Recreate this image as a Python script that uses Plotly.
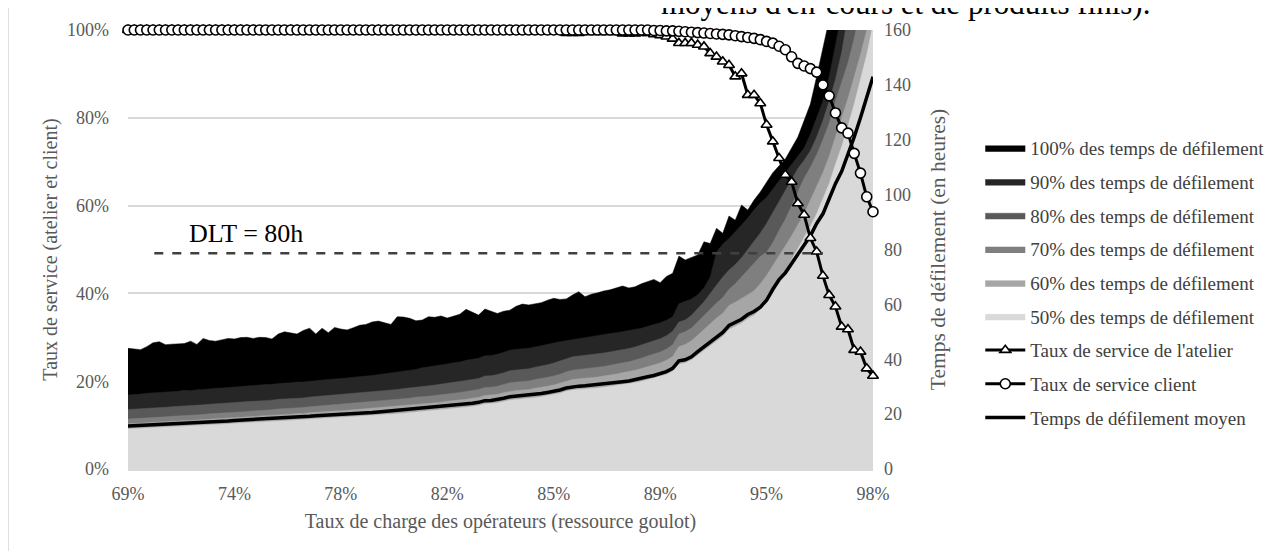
import plotly.graph_objects as go

# ---------------- data ----------------
tick_labels = ["69%", "74%", "78%", "82%", "85%", "89%", "95%", "98%"]
label_step = 17  # one tick label every 17 simulated load levels

mean_lt = [15.7,15.8,15.9,16.1,16.2,16.3,16.3,16.5,16.6,16.8,
           16.7,17.0,17.0,17.2,17.3,17.4,17.5,17.7,17.8,17.9,
           18.0,18.2,18.3,18.4,18.6,18.7,18.8,19.0,19.0,19.2,
           19.4,19.5,19.6,19.8,19.9,20.0,20.2,20.3,20.5,20.6,
           20.8,21.0,21.1,21.3,21.5,21.7,22.0,22.1,22.3,22.5,
           22.7,23.0,23.2,23.4,23.7,24.0,24.3,24.9,25.0,25.3,
           25.8,26.3,26.5,26.7,26.8,27.2,27.5,27.9,28.3,28.8,
           29.5,30.0,30.2,30.3,30.5,30.7,30.9,31.2,31.4,31.8,
           32.1,32.5,33.0,33.6,34.1,34.7,35.5,36.7,39.4,39.8,
           40.9,42.8,44.5,46.3,48.2,49.8,52.3,53.3,54.6,56.3,
           57.4,59.0,61.5,65.5,69.0,71.5,75.0,78.5,82.0,85.0,
           89.5,93.0,98.5,104.0,108.5,114.5,121.0,128.0,136.0,143.0]

p50 = [14.6,14.7,14.8,15.0,15.1,15.2,15.2,15.4,15.5,15.7,
       15.6,15.9,15.9,16.1,16.2,16.3,16.4,16.6,16.7,16.8,
       16.9,17.1,17.2,17.3,17.5,17.6,17.7,17.9,17.9,18.1,
       18.3,18.4,18.5,18.7,18.8,18.9,19.1,19.2,19.4,19.5,
       19.7,19.8,19.9,20.1,20.3,20.5,20.8,20.9,21.1,21.3,
       21.5,21.8,22.0,22.2,22.5,22.8,23.1,23.7,23.8,24.1,
       24.6,25.1,25.3,25.5,25.6,26.0,26.3,26.7,27.1,27.6,
       28.3,28.8,29.0,29.1,29.3,29.5,29.8,30.1,30.3,30.7,
       31.0,31.4,31.9,32.5,33.0,33.6,34.4,35.6,38.2,38.6,
       39.7,41.5,43.2,44.9,46.8,48.3,50.8,51.8,53.1,54.8,
       56.0,58.0,60.5,64.0,68.0,72.0,76.0,80.0,84.5,88.5,
       93.0,98.5,104.0,111.0,117.5,125.0,133.0,142.0,151.0,162.0]

p60 = [16.5,16.6,16.7,16.9,17.0,17.1,17.2,17.4,17.5,17.7,
       17.6,17.9,17.9,18.1,18.3,18.4,18.5,18.7,18.8,19.0,
       19.1,19.3,19.4,19.5,19.8,19.9,20.0,20.2,20.2,20.5,
       20.7,20.8,20.9,21.1,21.2,21.4,21.6,21.7,21.9,22.0,
       22.3,22.5,22.6,22.8,23.0,23.2,23.5,23.7,23.9,24.1,
       24.3,24.7,24.9,25.1,25.4,25.8,26.1,26.8,26.9,27.2,
       27.8,28.3,28.6,28.8,28.9,29.4,29.7,30.2,30.6,31.2,
       32.0,32.6,32.9,33.0,33.3,33.5,33.8,34.3,34.6,35.1,
       35.5,36.0,36.6,37.3,37.9,38.6,39.6,41.0,44.6,45.4,
       46.7,48.8,50.7,52.8,55.0,56.8,59.6,60.8,62.0,63.5,
       65.0,67.5,70.5,74.0,77.5,81.0,85.0,89.0,93.0,98.0,
       103.0,108.0,114.0,121.0,128.0,135.0,143.0,151.0,160.0,169.0]

p70 = [18.2,18.3,18.4,18.7,18.8,18.9,19.0,19.2,19.3,19.6,
       19.5,19.8,19.9,20.1,20.2,20.3,20.5,20.7,20.8,21.0,
       21.1,21.4,21.5,21.6,21.9,22.0,22.2,22.4,22.4,22.7,
       22.9,23.0,23.2,23.4,23.6,23.7,24.0,24.1,24.3,24.5,
       24.7,25.0,25.1,25.3,25.6,25.8,26.2,26.3,26.5,26.8,
       27.0,27.4,27.6,27.9,28.2,28.6,29.0,29.7,29.8,30.2,
       30.8,31.4,31.7,31.9,32.1,32.6,32.9,33.4,33.9,34.5,
       35.4,36.0,36.3,36.5,36.8,37.1,37.4,37.9,38.2,38.7,
       39.1,39.7,40.4,41.2,41.8,42.6,43.7,45.3,49.2,50.0,
       51.4,53.7,55.8,58.1,60.5,62.5,65.5,67.5,70.0,72.5,
       75.0,77.5,79.0,82.5,87.0,91.0,96.0,101.0,106.0,110.0,
       114.5,120.0,126.0,134.0,141.0,148.0,157.0,167.0,178.0,190.0]

p80 = [21.7,21.8,21.9,22.2,22.3,22.4,22.5,22.7,22.8,23.1,
       23.0,23.3,23.4,23.6,23.7,23.8,24.0,24.2,24.4,24.5,
       24.6,24.9,25.0,25.1,25.4,25.5,25.6,25.9,25.9,26.2,
       26.4,26.5,26.7,27.0,27.1,27.2,27.5,27.6,27.9,28.0,
       28.3,28.6,28.7,29.0,29.3,29.5,29.9,30.1,30.3,30.6,
       30.9,31.3,31.6,31.8,32.2,32.6,33.0,33.9,34.0,34.4,
       35.1,35.8,36.1,36.4,36.5,37.1,37.5,38.0,38.6,39.3,
       40.2,40.9,41.2,41.4,41.7,42.0,42.3,42.7,43.0,43.5,
       43.9,44.5,45.2,46.0,46.7,47.5,48.6,50.2,53.6,54.3,
       56.0,58.5,61.0,64.0,67.0,70.0,72.5,74.5,77.0,80.0,
       83.0,86.0,89.5,93.5,97.5,101.5,105.5,109.5,112.5,116.0,
       121.0,127.0,134.0,142.0,152.0,164.0,176.0,190.0,205.0,220.0]

p90 = [27.0,27.1,27.3,27.6,27.8,27.9,28.0,28.2,28.3,28.7,
       28.5,28.9,29.0,29.3,29.4,29.5,29.7,30.0,30.1,30.3,
       30.4,30.7,30.8,30.9,31.2,31.3,31.4,31.7,31.7,32.0,
       32.3,32.4,32.6,32.9,33.0,33.2,33.5,33.6,33.9,34.1,
       34.4,34.7,34.9,35.2,35.5,35.8,36.3,36.9,37.2,37.5,
       37.8,38.3,38.7,39.0,39.6,40.0,40.4,41.3,41.4,41.8,
       42.5,43.3,43.6,43.8,44.0,44.5,44.9,45.4,45.9,46.4,
       46.8,47.1,47.5,47.8,48.2,48.6,49.0,49.4,49.7,50.1,
       50.5,50.9,51.3,52.0,52.6,53.3,54.2,55.5,60.2,61.0,
       62.0,63.5,66.0,70.0,79.0,82.0,84.0,86.5,89.0,91.5,
       94.5,97.0,99.0,102.0,105.0,108.0,111.0,114.0,117.0,122.0,
       128.0,134.0,143.0,154.0,166.0,180.0,195.0,210.0,225.0,240.0]

p100 = [44.0,43.8,43.5,44.6,46.0,46.4,45.3,45.5,45.6,45.7,
        46.6,45.4,47.6,46.8,46.6,47.0,47.6,47.4,47.9,48.0,
        47.6,48.0,47.9,47.4,49.2,50.0,49.6,49.2,50.5,51.3,
        49.2,51.3,49.7,51.6,51.0,50.7,51.5,52.4,52.7,53.6,
        53.9,53.2,52.7,55.5,55.4,54.9,54.0,54.3,55.5,55.3,
        55.8,55.0,55.6,56.4,58.2,57.0,56.1,58.3,57.6,56.7,
        57.5,57.9,59.3,60.1,59.8,60.3,60.6,61.5,62.2,61.8,
        62.0,63.4,64.6,62.8,63.7,64.2,64.9,65.3,66.1,66.7,
        66.0,66.4,67.5,68.3,69.1,67.9,70.2,71.3,77.6,76.2,
        77.0,78.0,82.8,82.2,87.7,85.9,92.2,90.7,96.2,94.4,
        98.0,101.0,104.5,108.0,110.5,113.0,117.0,121.0,127.0,133.0,
        143.0,153.0,162.0,172.0,183.0,195.0,210.0,225.0,240.0,255.0]

service_atelier = [100.0,100.0,100.0,100.0,100.0,100.0,100.0,100.0,100.0,100.0,
                   100.0,100.0,100.0,100.0,100.0,100.0,100.0,100.0,100.0,100.0,
                   100.0,99.7,99.7,99.7,99.7,99.7,100.0,100.0,99.7,99.7,
                   99.7,99.7,99.7,99.7,99.7,99.7,99.7,99.7,99.7,99.7,
                   100.0,99.6,99.6,99.6,99.6,99.6,99.6,99.6,99.6,99.6,
                   99.6,99.6,99.8,99.8,99.8,99.8,99.8,99.8,99.8,99.8,
                   99.8,99.6,99.6,99.6,99.6,99.6,99.6,99.6,99.6,99.6,
                   99.3,99.3,99.3,99.5,99.5,99.5,99.5,99.5,99.5,99.2,
                   99.2,99.2,99.3,99.3,99.0,98.8,98.5,98.0,97.0,97.0,
                   97.0,96.6,96.2,94.7,93.9,92.8,92.0,89.4,90.1,85.2,
                   85.2,83.3,78.4,74.6,70.8,67.0,65.4,60.5,57.9,52.6,
                   49.5,44.0,39.6,37.0,32.4,31.8,27.1,26.7,22.9,21.2]

service_client = [100.0,100.0,100.0,100.0,100.0,100.0,100.0,100.0,100.0,100.0,
                  100.0,100.0,100.0,100.0,100.0,100.0,100.0,100.0,100.0,100.0,
                  100.0,100.0,100.0,100.0,100.0,100.0,100.0,100.0,100.0,100.0,
                  100.0,100.0,100.0,100.0,100.0,100.0,100.0,100.0,100.0,100.0,
                  100.0,100.0,100.0,100.0,100.0,100.0,100.0,100.0,100.0,100.0,
                  100.0,100.0,100.0,100.0,100.0,100.0,100.0,100.0,100.0,100.0,
                  100.0,100.0,100.0,100.0,100.0,100.0,100.0,100.0,100.0,100.0,
                  100.0,100.0,100.0,100.0,100.0,100.0,100.0,100.0,100.0,100.0,
                  100.0,100.0,100.0,100.0,99.9,99.9,99.8,99.8,99.7,99.6,
                  99.5,99.4,99.3,99.2,99.1,99.0,98.9,98.7,98.5,98.3,
                  98.1,97.8,97.4,97.0,96.3,95.5,93.9,92.4,91.8,91.2,
                  90.4,87.5,85.0,81.1,77.7,76.5,71.9,67.4,62.0,58.6]

dlt_hours = 78.6
dlt_label = "DLT = 80h"

# ---------------- figure ----------------
x = list(range(len(mean_lt)))
FONT = "Liberation Serif"
GREY = "#595959"

fig = go.Figure()

areas = [
    ("100% des temps de défilement", p100, "#000000"),
    ("90% des temps de défilement", p90, "#262626"),
    ("80% des temps de défilement", p80, "#595959"),
    ("70% des temps de défilement", p70, "#7f7f7f"),
    ("60% des temps de défilement", p60, "#a6a6a6"),
    ("50% des temps de défilement", p50, "#d9d9d9"),
]
for rank, (name, vals, col) in enumerate(areas, start=1):
    fig.add_trace(go.Scatter(
        x=x, y=vals, name=name, mode="lines", fill="tozeroy",
        fillcolor=col, line=dict(color=col, width=0.5),
        yaxis="y", legendrank=rank, legendgroup=name,
        hoverinfo="skip"))

fig.add_trace(go.Scatter(
    x=x, y=mean_lt, name="Temps de défilement moyen", mode="lines",
    line=dict(color="black", width=3.5), yaxis="y", legendrank=9,
    legendgroup="moy"))

fig.add_trace(go.Scatter(
    x=x, y=service_atelier, name="Taux de service de l'atelier",
    mode="lines+markers", line=dict(color="black", width=3),
    marker=dict(symbol="triangle-up", size=9.5, color="white",
                line=dict(color="black", width=1.6)),
    yaxis="y2", legendrank=7, legendgroup="at", cliponaxis=False))

fig.add_trace(go.Scatter(
    x=x, y=service_client, name="Taux de service client",
    mode="lines+markers", line=dict(color="black", width=3),
    marker=dict(symbol="circle", size=10, color="white",
                line=dict(color="black", width=1.6)),
    yaxis="y2", legendrank=8, legendgroup="cl", cliponaxis=False))

fig.add_shape(type="line", xref="x", yref="y", x0=4.2, x1=111,
              y0=dlt_hours, y1=dlt_hours,
              line=dict(color="#404040", width=2.5, dash="dash"))
fig.add_annotation(xref="x", yref="y", x=9.5, y=86, text=dlt_label,
                   showarrow=False, xanchor="left", yanchor="middle",
                   font=dict(family=FONT, size=26, color="black"))

fig.add_annotation(xref="paper", yref="paper", x=1.043, y=1.061,
                   text="moyens d'en-cours et de produits finis).",
                   showarrow=False, xanchor="center", yanchor="middle",
                   font=dict(family=FONT, size=31, color="black"))

for xp in (-0.161, 1.554):
    fig.add_shape(type="line", xref="paper", yref="paper", x0=xp, x1=xp,
                  y0=1.05, y1=-0.2, line=dict(color="#d9d9d9", width=1.5))

fig.update_layout(
    width=1280, height=543,
    margin=dict(l=120, r=415, t=22, b=82),
    paper_bgcolor="white", plot_bgcolor="white",
    font=dict(family=FONT, size=18, color=GREY),
    showlegend=True,
    legend=dict(x=1.144, y=0.7745, xanchor="left", yanchor="top",
                font=dict(family=FONT, size=19, color="#404040"),
                tracegroupgap=6, itemwidth=40, bgcolor="rgba(0,0,0,0)"),
    xaxis=dict(range=[0, len(x) - 1],
               tickvals=[i * label_step for i in range(len(tick_labels))],
               ticktext=tick_labels, showgrid=False, zeroline=False,
               showline=True, linecolor="#d9d9d9", linewidth=1.5,
               ticks="", ticklabelstandoff=8,
               tickfont=dict(size=18, color=GREY),
               title=dict(text="Taux de charge des opérateurs (ressource goulot)",
                          font=dict(size=20, color=GREY), standoff=11)),
    yaxis=dict(range=[0, 160], dtick=20, side="right", showgrid=False,
               zeroline=False, ticks="", ticklabelstandoff=10,
               tickfont=dict(size=18, color=GREY),
               title=dict(text="Temps de défilement (en heures)",
                          font=dict(size=21.5, color=GREY), standoff=19)),
    yaxis2=dict(range=[0, 100], dtick=20, ticksuffix="%", side="left",
                overlaying="y", showgrid=True, gridcolor="#d9d9d9",
                gridwidth=1.5, zeroline=False, ticks="",
                ticklabelstandoff=18,
                tickfont=dict(size=18, color=GREY),
                title=dict(text="Taux de service (atelier et client)",
                           font=dict(size=20, color=GREY), standoff=4)),
)

fig.write_html("out.html")
